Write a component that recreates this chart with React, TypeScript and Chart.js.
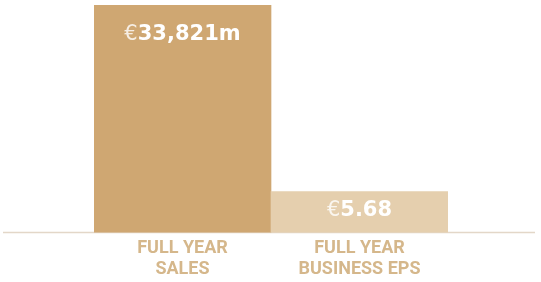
import React, { useEffect, useRef } from "react";
import { Chart, registerables } from "chart.js";

Chart.register(...registerables);

const categories: string[][] = [
  ["FULL YEAR", "SALES"],
  ["FULL YEAR", "BUSINESS EPS"],
];
// Displayed headline figures
const currencySymbol = "€";
const valueLabels = ["33,821m", "5.68"];
// Relative bar heights as drawn (the two measures are not on one scale)
const barHeights = [100, 18];

const barColors = ["#CFA772", "#E5CFAE"];
const labelColor = "#D5B78B";
const baselineColor = "#E3D7C8";

const baselinePlugin = {
  id: "baseline",
  beforeDatasetsDraw(chart: any) {
    const { ctx } = chart;
    const y = chart.scales.y.getPixelForValue(0);
    ctx.save();
    ctx.strokeStyle = baselineColor;
    ctx.lineWidth = 1.5;
    ctx.beginPath();
    ctx.moveTo(3, y);
    ctx.lineTo(535, y);
    ctx.stroke();
    ctx.restore();
  },
};

const valueLabelPlugin = {
  id: "valueLabels",
  afterDatasetsDraw(chart: any) {
    const { ctx } = chart;
    const meta = chart.getDatasetMeta(0);
    ctx.save();
    ctx.textBaseline = "middle";
    ctx.textAlign = "left";
    meta.data.forEach((el: any, i: number) => {
      const top = el.y;
      const base = el.base;
      const y = Math.min(top + 29.5, (top + base) / 2 - 1.5);
      const symFont = "normal 21px 'DejaVu Sans'";
      const numFont = "bold 21px 'DejaVu Sans'";
      ctx.font = symFont;
      const w1 = ctx.measureText(currencySymbol).width;
      ctx.font = numFont;
      const w2 = ctx.measureText(valueLabels[i]).width;
      const start = el.x - (w1 + w2) / 2;
      ctx.font = symFont;
      ctx.fillStyle = "rgba(255,255,255,0.8)";
      ctx.fillText(currencySymbol, start, y);
      ctx.font = numFont;
      ctx.fillStyle = "#FFFFFF";
      ctx.fillText(valueLabels[i], start + w1, y);
    });
    ctx.restore();
  },
};

export default function App() {
  const canvasRef = useRef<HTMLCanvasElement | null>(null);

  useEffect(() => {
    if (!canvasRef.current) return;
    const chart = new Chart(canvasRef.current, {
      type: "bar",
      data: {
        labels: categories,
        datasets: [
          {
            data: barHeights,
            backgroundColor: barColors,
            borderWidth: 0,
            barPercentage: 1,
            categoryPercentage: 1,
          },
        ],
      },
      options: {
        animation: false,
        responsive: true,
        maintainAspectRatio: false,
        layout: { padding: { left: 94, right: 93, top: 5, bottom: -4 } },
        plugins: {
          legend: { display: false },
          tooltip: { enabled: false },
        },
        scales: {
          x: {
            grid: { display: false, drawTicks: false },
            border: { display: false },
            ticks: {
              color: labelColor,
              padding: 6,
              maxRotation: 0,
              autoSkip: false,
              font: { family: "Roboto", weight: "bold", size: 18, lineHeight: 1.15 },
            },
          },
          y: {
            display: false,
            min: 0,
            max: 100,
          },
        },
      },
      plugins: [baselinePlugin, valueLabelPlugin],
    });
    return () => chart.destroy();
  }, []);

  return (
    <div style={{ position: "fixed", left: 0, top: 0, width: 541, height: 282, background: "#fff" }}>
      <canvas ref={canvasRef} />
    </div>
  );
}
